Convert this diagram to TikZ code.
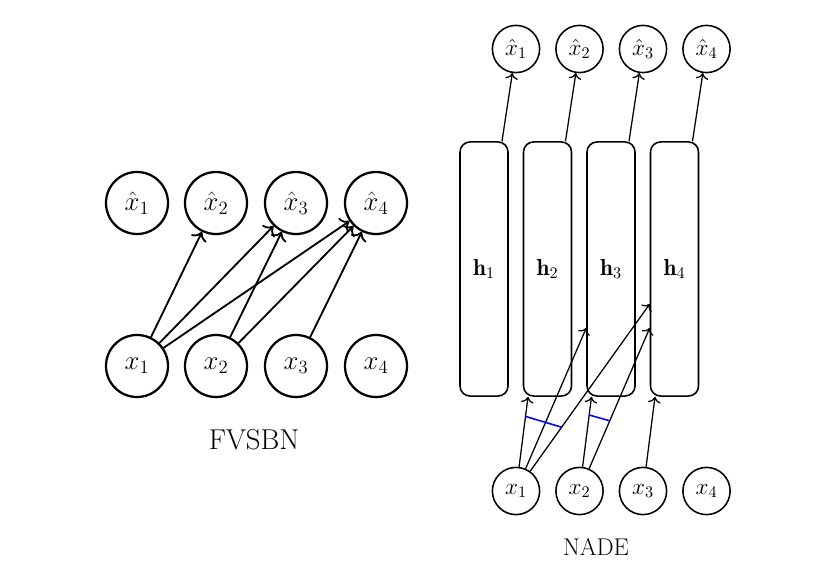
\RequirePackage{fix-cm}
\documentclass[tikz,border=0pt]{standalone}
\usepackage{fontspec}
\usetikzlibrary{calc,arrows.meta}
\begin{document}
\begin{tikzpicture}[x=0.025cm,y=-0.025cm,
  bigvar/.style={draw,circle,line width=1.6pt,minimum size=1.55cm,inner sep=0pt,font=\fontsize{19}{22}\selectfont},
  smallvar/.style={draw,circle,line width=1.1pt,minimum size=1.18cm,inner sep=0pt,font=\fontsize{16.5}{19}\selectfont},
  hidbox/.style={draw,rounded corners=0.25cm,line width=1.1pt,minimum width=1.2cm,minimum height=6.35cm,inner sep=0pt,font=\fontsize{16.5}{19}\selectfont},
  bigarr/.style={-{To[scale=1.3]},line width=1.3pt},
  smallarr/.style={-{To[scale=1.2]},line width=0.9pt},
  tie/.style={blue,line width=1.1pt}]
\useasboundingbox (0,0) rectangle (827,563);
% FVSBN
\node[bigvar] (fxh1) at (137,203) {$\hat{x}_1$};
\node[bigvar] (fxh2) at (216,203) {$\hat{x}_2$};
\node[bigvar] (fxh3) at (296,203) {$\hat{x}_3$};
\node[bigvar] (fxh4) at (376,203) {$\hat{x}_4$};
\node[bigvar] (fx1) at (137,366) {$x_1$};
\node[bigvar] (fx2) at (216,366) {$x_2$};
\node[bigvar] (fx3) at (296,366) {$x_3$};
\node[bigvar] (fx4) at (376,366) {$x_4$};
\draw[bigarr] (fx1) -- (fxh2);
\draw[bigarr] (fx1) -- (fxh3);
\draw[bigarr] (fx1) -- (fxh4);
\draw[bigarr] (fx2) -- (fxh3);
\draw[bigarr] (fx2) -- (fxh4);
\draw[bigarr] (fx3) -- (fxh4);
\node[font=\fontsize{20.4}{24}\selectfont] (fvsbn) at (254,440) {FVSBN};
% NADE
\node[smallvar] (xh1) at (516,49) {$\hat{x}_1$};
\node[smallvar] (xh2) at (579.5,49) {$\hat{x}_2$};
\node[smallvar] (xh3) at (643,49) {$\hat{x}_3$};
\node[smallvar] (xh4) at (706.5,49) {$\hat{x}_4$};
\node[hidbox] (h1) at (484,269) {$\mathbf{h}_1$};
\node[hidbox] (h2) at (547.5,269) {$\mathbf{h}_2$};
\node[hidbox] (h3) at (611,269) {$\mathbf{h}_3$};
\node[hidbox] (h4) at (674.5,269) {$\mathbf{h}_4$};
\node[smallvar] (x1) at (516,491) {$x_1$};
\node[smallvar] (x2) at (579.5,491) {$x_2$};
\node[smallvar] (x3) at (643,491) {$x_3$};
\node[smallvar] (x4) at (706.5,491) {$x_4$};
\draw[smallarr] ($(h1.north)+(18,0)$) -- (xh1);
\draw[smallarr] ($(h2.north)+(18,0)$) -- (xh2);
\draw[smallarr] ($(h3.north)+(18,0)$) -- (xh3);
\draw[smallarr] ($(h4.north)+(18,0)$) -- (xh4);
\draw[smallarr] (x1) -- coordinate[pos=0.72] (t1a) ($(h2.south)+(-19.5,0)$);
\draw[smallarr] (x1) -- ($(h3.west)+(0,59)$);
\draw[smallarr] (x1) -- coordinate[pos=0.263] (t1b) ($(h4.west)+(0,35)$);
\draw[smallarr] (x2) -- coordinate[pos=0.74] (t2a) ($(h3.south)+(-19.5,0)$);
\draw[smallarr] (x2) -- coordinate[pos=0.34] (t2b) ($(h4.west)+(0,59)$);
\draw[smallarr] (x3) -- ($(h4.south)+(-19.5,0)$);
\draw[tie] (t1a) -- (t1b);
\draw[tie] (t2a) -- (t2b);
\node[font=\fontsize{17.2}{20}\selectfont] (nade) at (596,547) {NADE};
\end{tikzpicture}
\end{document}
